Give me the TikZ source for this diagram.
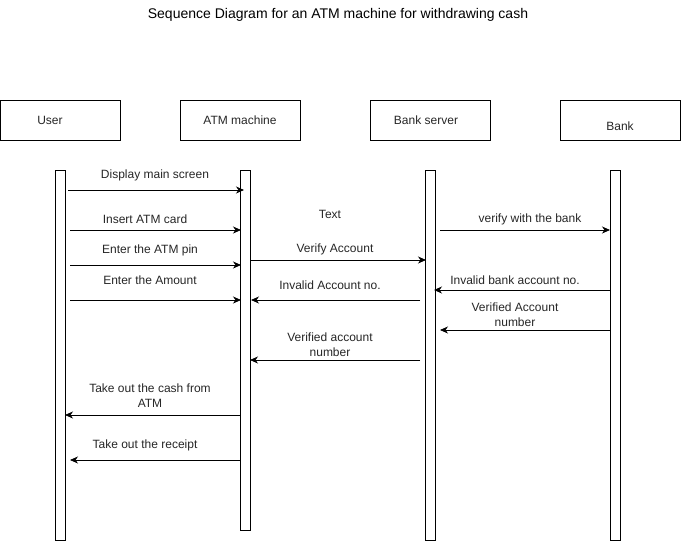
\documentclass[tikz,border=0pt]{standalone}
\usepackage{fontspec}
\setmainfont{Liberation Sans}
\usetikzlibrary{arrows.meta}
\begin{document}
\begin{tikzpicture}[x=1pt,y=-1pt,
  every node/.style={font=\fontsize{12}{15}\selectfont, text=black!85, inner sep=0pt},
  actor/.style={draw, line width=0.8pt, minimum width=120pt, minimum height=40pt, anchor=north west},
  life/.style={draw, fill=white, line width=0.8pt, minimum width=10pt, anchor=north west},
  msg/.style={line width=0.8pt, -{Stealth[length=8pt,width=7pt,inset=2.5pt]}},
  lbl/.style={align=center}]
\useasboundingbox (0,0) rectangle (681,541);
\node[font=\fontsize{14}{16}\selectfont, text=black] (title) at (338,15) {Sequence Diagram for an ATM machine for withdrawing cash};
% actors
\node[actor] (user) at (0,100) {};
\node at (50,120) {User};
\node[actor] (atm) at (180,100) {};
\node at (240,120) {ATM machine};
\node[actor] (server) at (370,100) {};
\node at (426,120) {Bank server};
\node[actor, minimum width=120.3pt] (bank) at (560,100) {};
\node at (620,126) {Bank};
% lifelines
\node[life, minimum height=370pt] (lu) at (55,170) {};
\node[life, minimum height=360pt] (la) at (240,170) {};
\node[life, minimum height=370pt] (ls) at (425,170) {};
\node[life, minimum height=370pt] (lb) at (610,170) {};
% coordinates
\coordinate (a1s) at (68,190);  \coordinate (a1e) at (244,190);
\coordinate (a2s) at (70,230);  \coordinate (a2e) at (241,230);
\coordinate (a3s) at (70,265);  \coordinate (a3e) at (241,265);
\coordinate (a4s) at (70,300);  \coordinate (a4e) at (241,300);
\coordinate (a5s) at (250,260); \coordinate (a5e) at (426,260);
\coordinate (a6s) at (420,300); \coordinate (a6e) at (251,300);
\coordinate (a8s) at (440,230); \coordinate (a8e) at (610,230);
\coordinate (a9s) at (610,290); \coordinate (a9e) at (434,290);
\coordinate (a10s) at (610,330); \coordinate (a10e) at (440,330);
\coordinate (a11s) at (420,360); \coordinate (a11e) at (250,360);
\coordinate (a12s) at (240,415); \coordinate (a12e) at (65,415);
\coordinate (a13s) at (240,460); \coordinate (a13e) at (70,460);
% messages
\draw[msg] (a1s) -- (a1e);
\node[lbl] at (155,175) {Display main screen};
\draw[msg] (a2s) -- (a2e);
\node[lbl] at (145,219) {Insert ATM card};
\draw[msg] (a3s) -- (a3e);
\node[lbl] at (150,250) {Enter the ATM pin};
\draw[msg] (a4s) -- (a4e);
\node[lbl] at (150,280) {Enter the Amount};
\draw[msg] (a5s) -- (a5e);
\node[lbl] at (335,249) {Verify Account};
\draw[msg] (a6s) -- (a6e);
\node[lbl] at (330,285) {Invalid Account no.};
\node[lbl] at (330,214) {Text};
\draw[msg] (a8s) -- (a8e);
\node[lbl] at (530,219) {verify with the bank};
\draw[msg] (a9s) -- (a9e);
\node[lbl] at (515,280) {Invalid bank account no.};
\draw[msg] (a10s) -- (a10e);
\node[lbl] at (515,315) {Verified Account\\number};
\draw[msg] (a11s) -- (a11e);
\node[lbl] at (330,345) {Verified account\\number};
\draw[msg] (a12s) -- (a12e);
\node[lbl] at (150,396) {Take out the cash from\\ATM};
\draw[msg] (a13s) -- (a13e);
\node[lbl] at (145,445) {Take out the receipt};
\end{tikzpicture}
\end{document}
